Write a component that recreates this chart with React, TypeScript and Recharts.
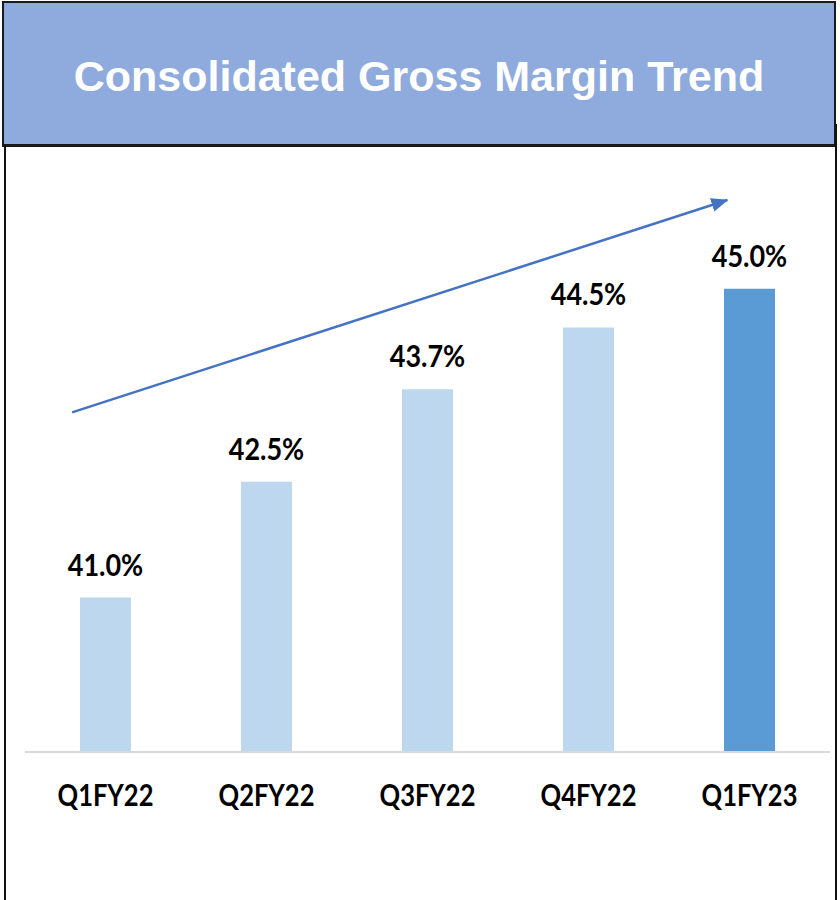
import { BarChart, Bar, XAxis, YAxis, Cell, LabelList, ReferenceLine } from "recharts";

const QUARTERS = ["Q1FY22", "Q2FY22", "Q3FY22", "Q4FY22", "Q1FY23"];
const MARGIN_PCT = [41.0, 42.5, 43.7, 44.5, 45.0];
const Y_DOMAIN: [number, number] = [39, 46.5];
// trend arrow: x on a 0..4 scale across the plot width, y in %
const TREND_START = { x: 0.234, y: 43.4 };
const TREND_END = { x: 3.49, y: 46.15 };

const LIGHT = "#BDD7EE";
const DARK = "#5B9BD5";
const ARROW = "#4472C4";
const LABEL_FONT = "Lato, 'Noto Sans', sans-serif";

const data = QUARTERS.map((q, i) => ({ q, v: MARGIN_PCT[i] }));

function squeezed(cx: number, cy: number, k: number) {
  return `translate(${cx} ${cy}) scale(${k} 1) translate(${-cx} ${-cy})`;
}

function ValueLabel(props: any) {
  const { x, y, width, value } = props;
  const cx = x + width / 2;
  const cy = y - 22;
  return (
    <text x={cx} y={cy} textAnchor="middle" fontFamily={LABEL_FONT} fontWeight={700} fontSize={30} fill="#000" transform={squeezed(cx, cy, 0.9)}>
      {`${Number(value).toFixed(1)}%`}
    </text>
  );
}

function QuarterTick(props: any) {
  const { x, payload } = props;
  const cy = 806;
  return (
    <text x={x} y={cy} textAnchor="middle" fontFamily={LABEL_FONT} fontWeight={700} fontSize={30} fill="#000" transform={squeezed(x, cy, 0.85)}>
      {payload.value}
    </text>
  );
}

function TrendArrow(p: any) {
  return (
    <g>
      <defs>
        <marker id="trendHead" markerUnits="userSpaceOnUse" markerWidth={17} markerHeight={14} refX={16} refY={7} orient="auto">
          <path d="M0,0 L17,7 L0,14 z" fill={ARROW} />
        </marker>
      </defs>
      <line x1={p.x1} y1={p.y1} x2={p.x2} y2={p.y2} stroke={ARROW} strokeWidth={2.5} markerEnd="url(#trendHead)" />
    </g>
  );
}

export default function App() {
  return (
    <div style={{ position: "absolute", left: 0, top: 0, width: 840, height: 900, background: "#fff", overflow: "hidden" }}>
      <BarChart
        width={840}
        height={900}
        data={data}
        margin={{ top: 173, right: 10, left: 25, bottom: 0 }}
        style={{ position: "absolute", left: 0, top: 0 }}
      >
        <XAxis dataKey="q" height={148} tickLine={false} axisLine={{ stroke: "#D9D9D9", strokeWidth: 2 }} tick={<QuarterTick />} interval={0} />
        <XAxis xAxisId="arrow" type="number" domain={[0, 4]} allowDataOverflow hide />
        <YAxis domain={Y_DOMAIN} hide allowDataOverflow />
        <Bar dataKey="v" barSize={51} isAnimationActive={false}>
          {data.map((_, i) => (
            <Cell key={i} fill={i === data.length - 1 ? DARK : LIGHT} />
          ))}
          <LabelList dataKey="v" content={<ValueLabel />} />
        </Bar>
        <ReferenceLine
          xAxisId="arrow"
          segment={[TREND_START, TREND_END]}
          ifOverflow="visible"
          shape={TrendArrow}
        />
      </BarChart>

      {/* header box */}
      <div
        style={{
          position: "absolute", left: 2, top: 1, width: 830, height: 141,
          background: "#8FAADC", border: "2px solid #1a1a1a", borderBottomWidth: 3,
          display: "flex", alignItems: "center", justifyContent: "center",
        }}
      >
        <span style={{ color: "#fff", fontFamily: "'Liberation Sans', Arial, sans-serif", fontWeight: 700, fontSize: 43, marginTop: 6 }}>
          Consolidated Gross Margin Trend
        </span>
      </div>
      {/* side borders of the panel */}
      <div style={{ position: "absolute", left: 4, top: 146, width: 2, height: 760, background: "#111" }} />
      <div style={{ position: "absolute", left: 835, top: 124, width: 2, height: 780, background: "#111" }} />
    </div>
  );
}
